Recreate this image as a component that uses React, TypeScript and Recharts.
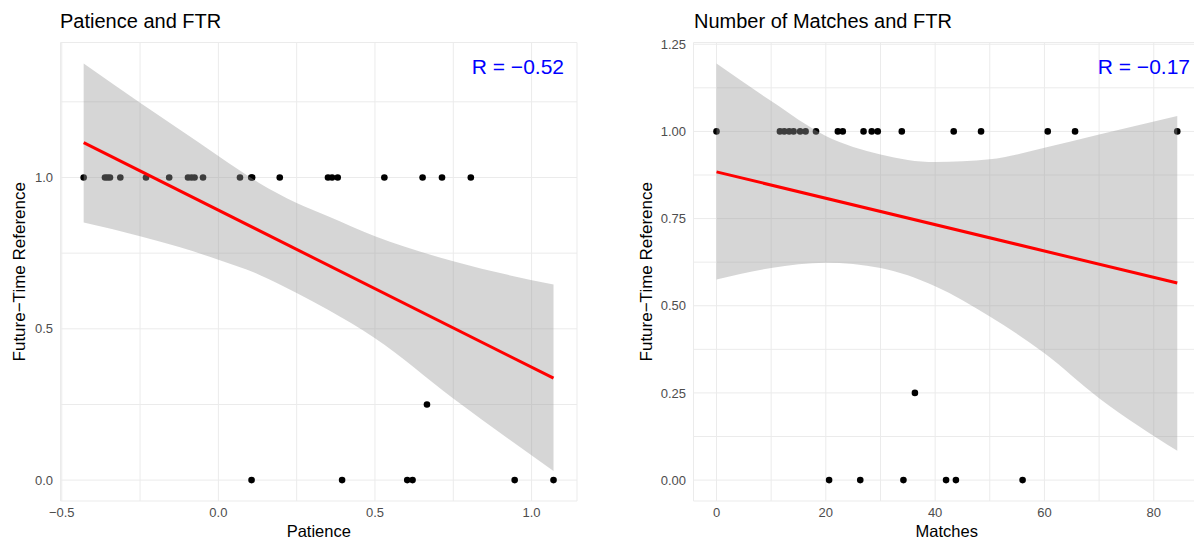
import React from 'react';
import {
  ComposedChart,
  XAxis,
  YAxis,
  CartesianGrid,
  Scatter,
  Area,
  Line,
} from 'recharts';

// --- Patience vs FTR (left panel) ---
const patienceAtOne = [
  -0.43, -0.362, -0.354, -0.346, -0.313, -0.231, -0.157, -0.097, -0.086, -0.076,
  -0.049, 0.069, 0.105, 0.108, 0.196, 0.35, 0.363, 0.381, 0.53, 0.652, 0.714, 0.806,
];
const patienceAtZero = [0.106, 0.395, 0.603, 0.62, 0.946, 1.07];
const patienceAtQuarter = [0.666];
const patienceFitX = [-0.43, 1.07];
const patienceFitY = [1.115, 0.337];
const patienceBandX = [-0.43, -0.25, -0.125, 0, 0.13, 0.25, 0.35, 0.5, 0.75, 1.07];
const patienceBandLow = [0.851, 0.806, 0.77, 0.728, 0.679, 0.618, 0.563, 0.469, 0.27, 0.03];
const patienceBandHigh = [1.377, 1.247, 1.159, 1.071, 0.982, 0.916, 0.872, 0.806, 0.723, 0.646];
const patienceXTicks = [-0.5, -0.25, 0, 0.25, 0.5, 0.75, 1];
const patienceXLabels = ['\u22120.5', '', '0.0', '', '0.5', '', '1.0'];
const patienceYTicks = [0, 0.25, 0.5, 0.75, 1, 1.25];
const patienceYLabels = ['0.0', '', '0.5', '', '1.0', ''];

// --- Number of matches vs FTR (right panel) ---
const matchesAtOne = [
  0, 11.6, 12.4, 13.3, 14.1, 15.3, 16.3, 18.2, 22.2, 23.1, 26.9, 28.4, 29.5, 33.9,
  43.4, 48.4, 60.6, 65.6, 84.3,
];
const matchesAtZero = [20.6, 26.3, 34.2, 42.0, 43.8, 56.0];
const matchesAtQuarter = [36.3];
const matchesFitX = [0, 84.3];
const matchesFitY = [0.884, 0.565];
const matchesBandX = [0, 10, 20, 30, 40, 50, 60, 70, 84.3];
const matchesBandLow = [0.575, 0.608, 0.623, 0.608, 0.556, 0.469, 0.364, 0.235, 0.084];
const matchesBandHigh = [1.195, 1.087, 0.987, 0.934, 0.912, 0.92, 0.953, 0.991, 1.044];
const matchesXTicks = [0, 10, 20, 30, 40, 50, 60, 70, 80];
const matchesXLabels = ['0', '', '20', '', '40', '', '60', '', '80'];
const matchesYTicks = [0, 0.125, 0.25, 0.375, 0.5, 0.625, 0.75, 0.875, 1, 1.125, 1.25];
const matchesYLabels = ['0.00', '', '0.25', '', '0.50', '', '0.75', '', '1.00', '', '1.25'];

const FONT = '"Liberation Sans", Arial, Helvetica, sans-serif';

const toPoints = (ones: number[], zeros: number[], quarters: number[]) => [
  ...ones.map((x) => ({ x, y: 1 })),
  ...zeros.map((x) => ({ x, y: 0 })),
  ...quarters.map((x) => ({ x, y: 0.25 })),
];

const toBand = (xs: number[], lo: number[], hi: number[]) =>
  xs.map((x, i) => ({ x, range: [lo[i], hi[i]] }));

const toFit = (xs: number[], ys: number[]) => xs.map((x, i) => ({ x, y: ys[i] }));

const dot = (p: any) => <circle cx={p.cx} cy={p.cy} r={3.3} fill="#000" />;

type PanelProps = {
  width: number;
  yAxisWidth: number;
  marginRight: number;
  yTitleOffset: number;
  xDomain: [number, number];
  yDomain: [number, number];
  xTicks: number[];
  xLabels: string[];
  yTicks: number[];
  yLabels: string[];
  points: { x: number; y: number }[];
  band: { x: number; range: number[] }[];
  fit: { x: number; y: number }[];
  xTitle: string;
};

function Panel(props: PanelProps) {
  const tickStyle = { fontSize: 13, fill: '#4D4D4D', fontFamily: FONT };
  return (
    <ComposedChart
      width={props.width}
      height={541}
      margin={{ top: 42.5, right: props.marginRight, bottom: 0, left: 0 }}
    >
      <CartesianGrid stroke="#EBEBEB" strokeWidth={1} />
      <XAxis
        type="number"
        dataKey="x"
        domain={props.xDomain}
        allowDataOverflow
        ticks={props.xTicks}
        interval={0}
        tickFormatter={(v: number) => props.xLabels[props.xTicks.indexOf(v)] ?? ''}
        axisLine={false}
        tickLine={false}
        tickSize={4}
        tickMargin={2.5}
        height={40}
        tick={tickStyle}
        label={{
          value: props.xTitle,
          position: 'insideBottom',
          offset: 4,
          fontSize: 16.5,
          fill: '#000',
          fontFamily: FONT,
        }}
      />
      <YAxis
        type="number"
        domain={props.yDomain}
        allowDataOverflow
        ticks={props.yTicks}
        interval={0}
        tickFormatter={(v: number) => props.yLabels[props.yTicks.indexOf(v)] ?? ''}
        axisLine={false}
        tickLine={false}
        tickSize={4}
        tickMargin={3.5}
        width={props.yAxisWidth}
        tick={tickStyle}
        label={{
          value: 'Future\u2212Time Reference',
          angle: -90,
          position: 'insideLeft',
          offset: props.yTitleOffset,
          fontSize: 17,
          fill: '#000',
          fontFamily: FONT,
          style: { textAnchor: 'middle' },
        }}
      />
      {/* points sit under the grey ribbon, as in ggplot */}
      <Scatter
        data={props.points}
        dataKey="y"
        shape={dot}
        zIndex={50}
        isAnimationActive={false}
      />
      <Area
        data={props.band}
        dataKey="range"
        type="monotone"
        stroke="none"
        fill="#999999"
        fillOpacity={0.4}
        zIndex={100}
        isAnimationActive={false}
      />
      <Line
        data={props.fit}
        dataKey="y"
        type="linear"
        stroke="#FF0000"
        strokeWidth={3}
        dot={false}
        activeDot={false}
        zIndex={400}
        isAnimationActive={false}
      />
    </ComposedChart>
  );
}

export default function App() {
  return (
    <div
      style={{
        position: 'absolute',
        left: 0,
        top: 0,
        width: 1194,
        height: 541,
        overflow: 'hidden',
        background: '#fff',
        fontFamily: FONT,
      }}
    >
      <div style={{ position: 'absolute', left: 0, top: 0 }}>
        <Panel
          width={597}
          yAxisWidth={60.5}
          marginRight={20}
          yTitleOffset={19}
          xDomain={[-0.504, 1.145]}
          yDomain={[-0.069, 1.446]}
          xTicks={patienceXTicks}
          xLabels={patienceXLabels}
          yTicks={patienceYTicks}
          yLabels={patienceYLabels}
          points={toPoints(patienceAtOne, patienceAtZero, patienceAtQuarter)}
          band={toBand(patienceBandX, patienceBandLow, patienceBandHigh)}
          fit={toFit(patienceFitX, patienceFitY)}
          xTitle="Patience"
        />
      </div>
      <div style={{ position: 'absolute', left: 597, top: 0 }}>
        <Panel
          width={603}
          yAxisWidth={96.5}
          marginRight={0}
          yTitleOffset={48.5}
          xDomain={[-4.21, 88.46]}
          yDomain={[-0.06, 1.255]}
          xTicks={matchesXTicks}
          xLabels={matchesXLabels}
          yTicks={matchesYTicks}
          yLabels={matchesYLabels}
          points={toPoints(matchesAtOne, matchesAtZero, matchesAtQuarter)}
          band={toBand(matchesBandX, matchesBandLow, matchesBandHigh)}
          fit={toFit(matchesFitX, matchesFitY)}
          xTitle="Matches"
        />
      </div>
      <svg
        width={1194}
        height={541}
        style={{ position: 'absolute', left: 0, top: 0, pointerEvents: 'none' }}
      >
        <text x={60} y={28} fontSize={20} fill="#000" fontFamily={FONT}>
          Patience and FTR
        </text>
        <text x={694} y={28} fontSize={20} fill="#000" fontFamily={FONT}>
          Number of Matches and FTR
        </text>
        <text x={564} y={74} fontSize={21} fill="#0000FF" textAnchor="end" fontFamily={FONT}>
          R = {'\u2212'}0.52
        </text>
        <text x={1190} y={74} fontSize={21} fill="#0000FF" textAnchor="end" fontFamily={FONT}>
          R = {'\u2212'}0.17
        </text>
      </svg>
    </div>
  );
}
